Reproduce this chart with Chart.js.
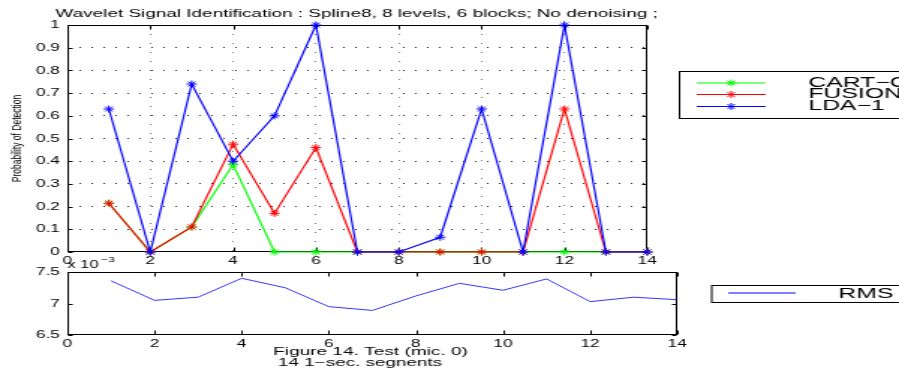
<!DOCTYPE html>
<html>
<head>
<meta charset="utf-8">
<title>Wavelet Signal Identification</title>
<script src="https://cdn.jsdelivr.net/npm/chart.js@4"></script>
<style>
  body { margin: 0; background: #fff; }
  #wrap { position: relative; width: 899px; height: 370px; overflow: hidden; }
  #wrap canvas { position: absolute; left: 0; top: 0; }
</style>
</head>
<body>
<div id="wrap">
  <canvas id="rmsChart" width="600" height="370" style="width:899px;height:370px"></canvas>
  <canvas id="detChart" width="600" height="370" style="width:899px;height:370px"></canvas>
</div>
<script>
// The original is a MATLAB figure that got stretched sideways, so both
// charts are drawn on a 600px wide canvas and shown 899px wide.

// === Data ===
const segments = [1, 2, 3, 4, 5, 6, 7, 8, 9, 10, 11, 12, 13, 14];
const cartC  = [0.215, 0, 0.11, 0.385, 0, 0, 0, 0, 0, 0, 0, 0, 0, 0];
const fusion = [0.215, 0, 0.11, 0.475, 0.17, 0.46, 0, 0, 0, 0, 0, 0.63, 0, 0];
const lda1   = [0.63, 0, 0.74, 0.40, 0.60, 1.0, 0, 0, 0.065, 0.63, 0, 1.0, 0, 0];
const rms    = [0.00736, 0.00705, 0.00710, 0.00740, 0.00725, 0.00695, 0.00689,
                0.00712, 0.00732, 0.00721, 0.00739, 0.00703, 0.00710, 0.00706];

const xTicks = [0, 2, 4, 6, 8, 10, 12, 14];
const xTickLabels = ['0', '2', '4', '6', '8', '10', '12', '14'];
const probTicks = [0, 0.1, 0.2, 0.3, 0.4, 0.5, 0.6, 0.7, 0.8, 0.9, 1];
const probTickLabels = ['0', '0.1', '0.2', '0.3', '0.4', '0.5', '0.6', '0.7', '0.8', '0.9', '1'];
const rmsTicks = [0.0065, 0.007, 0.0075];
const rmsTickLabels = ['6.5', '7', '7.5'];

const FONT = "'Liberation Sans', Arial, Helvetica, sans-serif";
const XAXIS_H = 16; // room kept under each plot for the x tick labels

function points(ys) {
  return segments.map((x, i) => ({ x: x, y: ys[i] }));
}

function fixedTicks(values) {
  return function (scale) {
    scale.ticks = values.map(v => ({ value: v }));
  };
}

// draw text, optionally squeezed/stretched to a given width
function drawText(ctx, t) {
  ctx.save();
  ctx.font = (t.size || 12) + 'px ' + FONT;
  ctx.fillStyle = '#000';
  ctx.textBaseline = 'middle';
  const w = ctx.measureText(t.text).width;
  const sx = t.width ? t.width / w : (t.stretch || 1);
  ctx.translate(t.x, t.y);
  ctx.scale(sx, 1);
  ctx.textAlign = t.align || 'center';
  ctx.fillText(t.text, 0, 0);
  ctx.restore();
}

// box round the axes + short inward ticks, matlab style
const matlabBox = {
  id: 'matlabBox',
  beforeDatasetsDraw(chart) {
    const { ctx, chartArea: a, scales } = chart;
    const L = Math.round(a.left) + 0.5, R = Math.round(a.right) - 0.5;
    const T = Math.round(a.top) + 0.5, B = Math.round(a.bottom) - 0.5;
    ctx.save();
    ctx.strokeStyle = '#000';
    ctx.lineWidth = 1;
    ctx.strokeRect(L, T, R - L, B - T);
    ctx.beginPath();
    scales.x.ticks.forEach(tk => {
      const x = Math.round(scales.x.getPixelForValue(tk.value)) + 0.5;
      ctx.moveTo(x, B); ctx.lineTo(x, B - 4);
      ctx.moveTo(x, T); ctx.lineTo(x, T + 4);
    });
    scales.y.ticks.forEach(tk => {
      const y = Math.round(scales.y.getPixelForValue(tk.value)) + 0.5;
      ctx.moveTo(L, y); ctx.lineTo(L + 3, y);
      ctx.moveTo(R, y); ctx.lineTo(R - 3, y);
    });
    ctx.stroke();
    ctx.restore();
  }
};

// legend in a framed box, placed like the matlab one
const boxLegend = {
  id: 'boxLegend',
  afterDraw(chart, args, opts) {
    const ctx = chart.ctx;
    const b = opts.box;
    ctx.save();
    ctx.fillStyle = '#fff';
    ctx.fillRect(b.x, b.y, b.w, b.h);
    ctx.strokeStyle = '#000';
    ctx.lineWidth = 1;
    ctx.strokeRect(b.x + 0.5, b.y + 0.5, b.w, b.h);
    chart.data.datasets.forEach((ds, i) => {
      const y = opts.rows[i];
      ctx.strokeStyle = ds.borderColor;
      ctx.lineWidth = 1;
      ctx.beginPath();
      ctx.moveTo(opts.lineFrom, y);
      ctx.lineTo(opts.lineTo, y);
      ctx.stroke();
      if (opts.markers) {
        Chart.helpers.drawPoint(ctx, { pointStyle: 'star', radius: 3.5, borderWidth: 1, rotation: 0 },
          (opts.lineFrom + opts.lineTo) / 2, y);
      }
      drawText(ctx, { text: ds.label, x: opts.textX, y: opts.textRows[i], size: opts.size, stretch: opts.stretch, align: 'left' });
    });
    ctx.restore();
  }
};

const figText = {
  id: 'figText',
  afterDraw(chart, args, opts) {
    opts.items.forEach(t => drawText(chart.ctx, t));
  }
};

const tickFont = { family: FONT, size: 11.5 };
const gridColor = c => ctx => {
  const v = ctx.tick ? ctx.tick.value : null;
  return v === ctx.scale.min || v === ctx.scale.max ? 'rgba(0,0,0,0)' : c;
};

// === Detection plot ===
new Chart(document.getElementById('detChart'), {
  type: 'line',
  data: {
    datasets: [
      { label: 'CART\u2212C', data: points(cartC), borderColor: '#00ff00', backgroundColor: '#00ff00', order: 2 },
      { label: 'FUSION', data: points(fusion), borderColor: '#ff0000', backgroundColor: '#ff0000', order: 1 },
      { label: 'LDA\u22121', data: points(lda1), borderColor: '#0000ff', backgroundColor: '#0000ff', order: 0 }
    ]
  },
  options: {
    responsive: false,
    animation: false,
    events: [],
    layout: { padding: { left: 0, top: 25, right: 600 - 432, bottom: 370 - 252 - XAXIS_H } },
    elements: {
      line: { borderWidth: 1.2, tension: 0, fill: false },
      point: { pointStyle: 'star', radius: 3.5, borderWidth: 1 }
    },
    datasets: { line: { clip: false } },
    scales: {
      x: {
        type: 'linear', min: 0, max: 14,
        afterBuildTicks: fixedTicks(xTicks),
        afterFit(s) { s.height = XAXIS_H; },
        ticks: { autoSkip: false, maxRotation: 0, padding: 2, color: '#000', font: tickFont,
                 callback: (v, i) => xTickLabels[i] },
        grid: { drawTicks: false, color: gridColor('#777'), lineWidth: 1 },
        border: { display: false, dash: [1, 8] }
      },
      y: {
        type: 'linear', min: 0, max: 1,
        afterBuildTicks: fixedTicks(probTicks),
        afterFit(s) { s.width = 45; },
        ticks: { padding: 5, color: '#000', font: tickFont, callback: (v, i) => probTickLabels[i] },
        grid: { drawTicks: false, color: gridColor('#222'), lineWidth: 1 },
        border: { display: false, dash: [1, 7] },
        title: { display: true, text: 'Probability of Detection', color: '#000',
                 font: { family: FONT, size: 8.5 }, padding: { top: 7, bottom: 0 } }
      }
    },
    plugins: {
      legend: { display: false },
      tooltip: { enabled: false },
      boxLegend: {
        box: { x: 453, y: 71, w: 200, h: 47 },
        lineFrom: 465, lineTo: 511, markers: true,
        rows: [83, 94.5, 106.5], textRows: [83, 94.5, 106], textX: 539.5, size: 14, stretch: 1.18
      },
      figText: {
        items: [
          { text: 'Wavelet Signal Identification : Spline8, 8 levels, 6 blocks; No denoising ;',
            x: 238, y: 14, size: 11, width: 402 }
        ]
      }
    }
  },
  plugins: [matlabBox, boxLegend, figText]
});

// === RMS plot ===
new Chart(document.getElementById('rmsChart'), {
  type: 'line',
  data: {
    datasets: [
      { label: 'RMS', data: points(rms), borderColor: '#0000ff', borderWidth: 0.8, pointRadius: 0 }
    ]
  },
  options: {
    responsive: false,
    animation: false,
    events: [],
    layout: { padding: { left: 0, top: 272, right: 600 - 452, bottom: 370 - 335 - XAXIS_H } },
    elements: { line: { tension: 0, fill: false } },
    scales: {
      x: {
        type: 'linear', min: 0, max: 14,
        afterBuildTicks: fixedTicks(xTicks),
        afterFit(s) { s.height = XAXIS_H; },
        ticks: { autoSkip: false, maxRotation: 0, padding: 2, color: '#000', font: tickFont,
                 callback: (v, i) => xTickLabels[i] },
        grid: { display: false, drawTicks: false },
        border: { display: false }
      },
      y: {
        type: 'linear', min: 0.0065, max: 0.0075,
        afterBuildTicks: fixedTicks(rmsTicks),
        afterFit(s) { s.width = 45; },
        ticks: { padding: 5, color: '#000', font: tickFont, callback: (v, i) => rmsTickLabels[i] },
        grid: { display: false, drawTicks: false },
        border: { display: false }
      }
    },
    plugins: {
      legend: { display: false },
      tooltip: { enabled: false },
      boxLegend: {
        box: { x: 474.5, y: 285, w: 200, h: 17 },
        lineFrom: 486, lineTo: 531, markers: false,
        rows: [293], textRows: [294.5], textX: 559.5, size: 14, stretch: 1.18
      },
      figText: {
        items: [
          { text: 'x 10', x: 45, y: 265, size: 11, align: 'left' },
          { text: '\u22123', x: 67.5, y: 260, size: 8, align: 'left' },
          { text: 'Figure 14. Test (mic. 0)', x: 247.3, y: 352, size: 10, width: 130 },
          { text: '14 1\u2212sec. segnents', x: 240.3, y: 363.5, size: 10, width: 109.5 }
        ]
      }
    }
  },
  plugins: [matlabBox, boxLegend, figText]
});
</script>
</body>
</html>
